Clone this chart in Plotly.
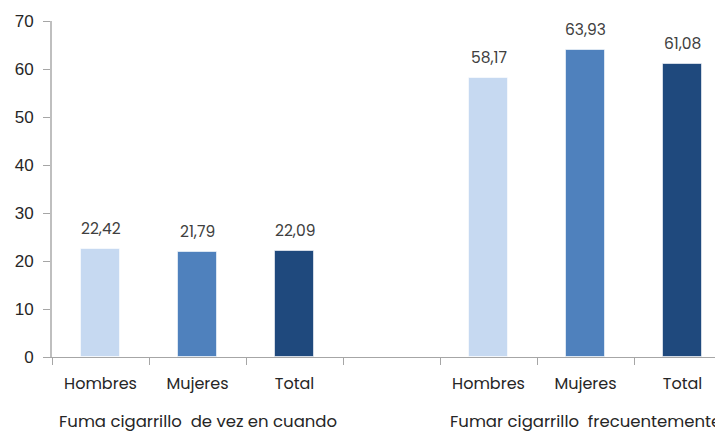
import plotly.graph_objects as go

groups = ["Fuma cigarrillo  de vez en cuando", "Fumar cigarrillo  frecuentemente"]
labels = ["Hombres", "Mujeres", "Total"]
values_g1 = [22.42, 21.79, 22.09]
values_g2 = [58.17, 63.93, 61.08]
colors = ["#C6D9F1", "#4F81BD", "#1F497D"]
yticks = [0, 10, 20, 30, 40, 50, 60, 70]

FONT = "Poppins, Lato, sans-serif"
YFONT = "Arial, Liberation Sans, sans-serif"

fig = go.Figure()
xs, ys, cs, tt = [], [], [], []
for gi, vals in enumerate([values_g1, values_g2]):
    for i, v in enumerate(vals):
        xs.append(gi * 4 + i)
        ys.append(v)
        cs.append(colors[i])
        tt.append(labels[i])

fig.add_trace(go.Bar(
    x=xs, y=ys, width=0.41,
    marker=dict(color=cs, line=dict(color="rgba(255,255,255,0.6)", width=1)),
    showlegend=False, hoverinfo="y",
))

for x, y in zip(xs, ys):
    fig.add_annotation(x=x, y=y, text=f"{y:.2f}".replace(".", ","), showarrow=False,
                       yanchor="bottom", yshift=8,
                       font=dict(family=FONT, size=15.5, color="#404040"))

for gi, g in enumerate(groups):
    fig.add_annotation(x=gi * 4 + 1, y=0, yref="paper", text=g, showarrow=False,
                       yanchor="top", yshift=-51,
                       font=dict(family=FONT, size=16.5, color="#262626"))

fig.update_layout(
    width=723, height=433,
    margin=dict(l=44, r=0, t=13, b=84),
    plot_bgcolor="white", paper_bgcolor="white",
    bargap=0,
    font=dict(family=FONT, color="#262626"),
    xaxis=dict(
        range=[-0.5, 6.5], automargin=False,
        tickvals=xs, ticktext=tt,
        ticks="outside", ticklen=12, tickcolor="rgba(0,0,0,0)",
        tickfont=dict(family=FONT, size=16, color="#262626"),
        minor=dict(tickvals=[-0.5, 0.5, 1.5, 2.5, 3.5, 4.5, 5.5], ticks="outside",
                   ticklen=7, tickcolor="#A6A6A6", tickwidth=1),
        showline=True, linecolor="#A6A6A6", linewidth=1,
        showgrid=False, zeroline=False, fixedrange=True,
    ),
    yaxis=dict(
        range=[0, 70], tickvals=yticks, automargin=False,
        ticks="outside", ticklen=7, tickcolor="#A6A6A6",
        ticklabelstandoff=6,
        tickfont=dict(family=YFONT, size=17, color="#262626"),
        showline=True, linecolor="#BFBFBF", linewidth=2,
        showgrid=False, zeroline=False,
    ),
)

fig.write_html("out.html")
